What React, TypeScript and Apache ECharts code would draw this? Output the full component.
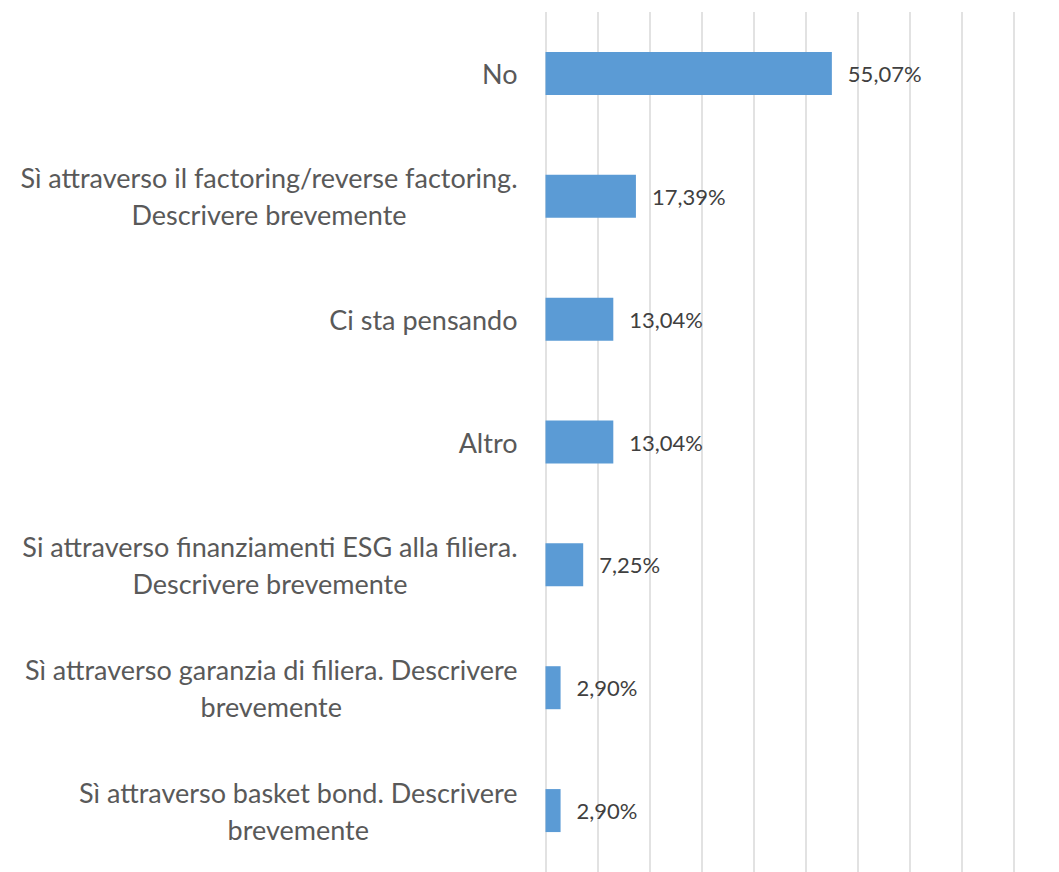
import React, { useEffect, useRef } from "react";
import * as echarts from "echarts";

const categories = [
  "No",
  "Sì attraverso il factoring/reverse factoring.\nDescrivere brevemente",
  "Ci sta pensando",
  "Altro",
  "Si attraverso finanziamenti ESG alla filiera.\nDescrivere brevemente",
  "Sì attraverso garanzia di filiera. Descrivere\nbrevemente",
  "Sì attraverso basket bond. Descrivere\nbrevemente",
];
const values = [55.07, 17.39, 13.04, 13.04, 7.25, 2.9, 2.9];
const axisMax = 90;
const axisInterval = 10;

export default function App() {
  const ref = useRef<HTMLDivElement>(null);
  useEffect(() => {
    if (!ref.current) return;
    const chart = echarts.init(ref.current, undefined, { renderer: "svg" });
    const font = "Lato, 'Open Sans', sans-serif";
    chart.setOption({
      animation: false,
      grid: { left: 545.5, right: 45.5, top: 12, height: 862, containLabel: false },
      xAxis: {
        type: "value",
        min: 0,
        max: axisMax,
        interval: axisInterval,
        axisLabel: { show: false },
        axisLine: { show: false },
        axisTick: { show: false },
        splitLine: { show: true, lineStyle: { color: "#d9d9d9", width: 1.5 } },
      },
      yAxis: {
        type: "category",
        data: categories,
        inverse: true,
        axisLine: { show: false },
        axisTick: { show: false },
        axisLabel: {
          margin: 28,
          align: "right",
          formatter: (v: string) =>
            v
              .split("\n")
              .map((l) => `{c|${l}}`)
              .join("\n"),
          rich: {
            c: {
              align: "center",
              fontFamily: font,
              fontSize: 27,
              lineHeight: 37,
              color: "#595959",
            },
          },
        },
      },
      series: [
        {
          type: "bar",
          data: values,
          barWidth: 43,
          itemStyle: { color: "#5b9bd5" },
          label: {
            show: true,
            position: "right",
            distance: 16,
            fontFamily: font,
            fontSize: 22,
            color: "#404040",
            formatter: (p: any) => p.value.toFixed(2).replace(".", ",") + "%",
          },
        },
      ],
    });
    return () => chart.dispose();
  }, []);
  return (
    <div
      ref={ref}
      style={{ position: "absolute", left: 0, top: 0, width: 1059, height: 872, background: "#fff" }}
    />
  );
}
